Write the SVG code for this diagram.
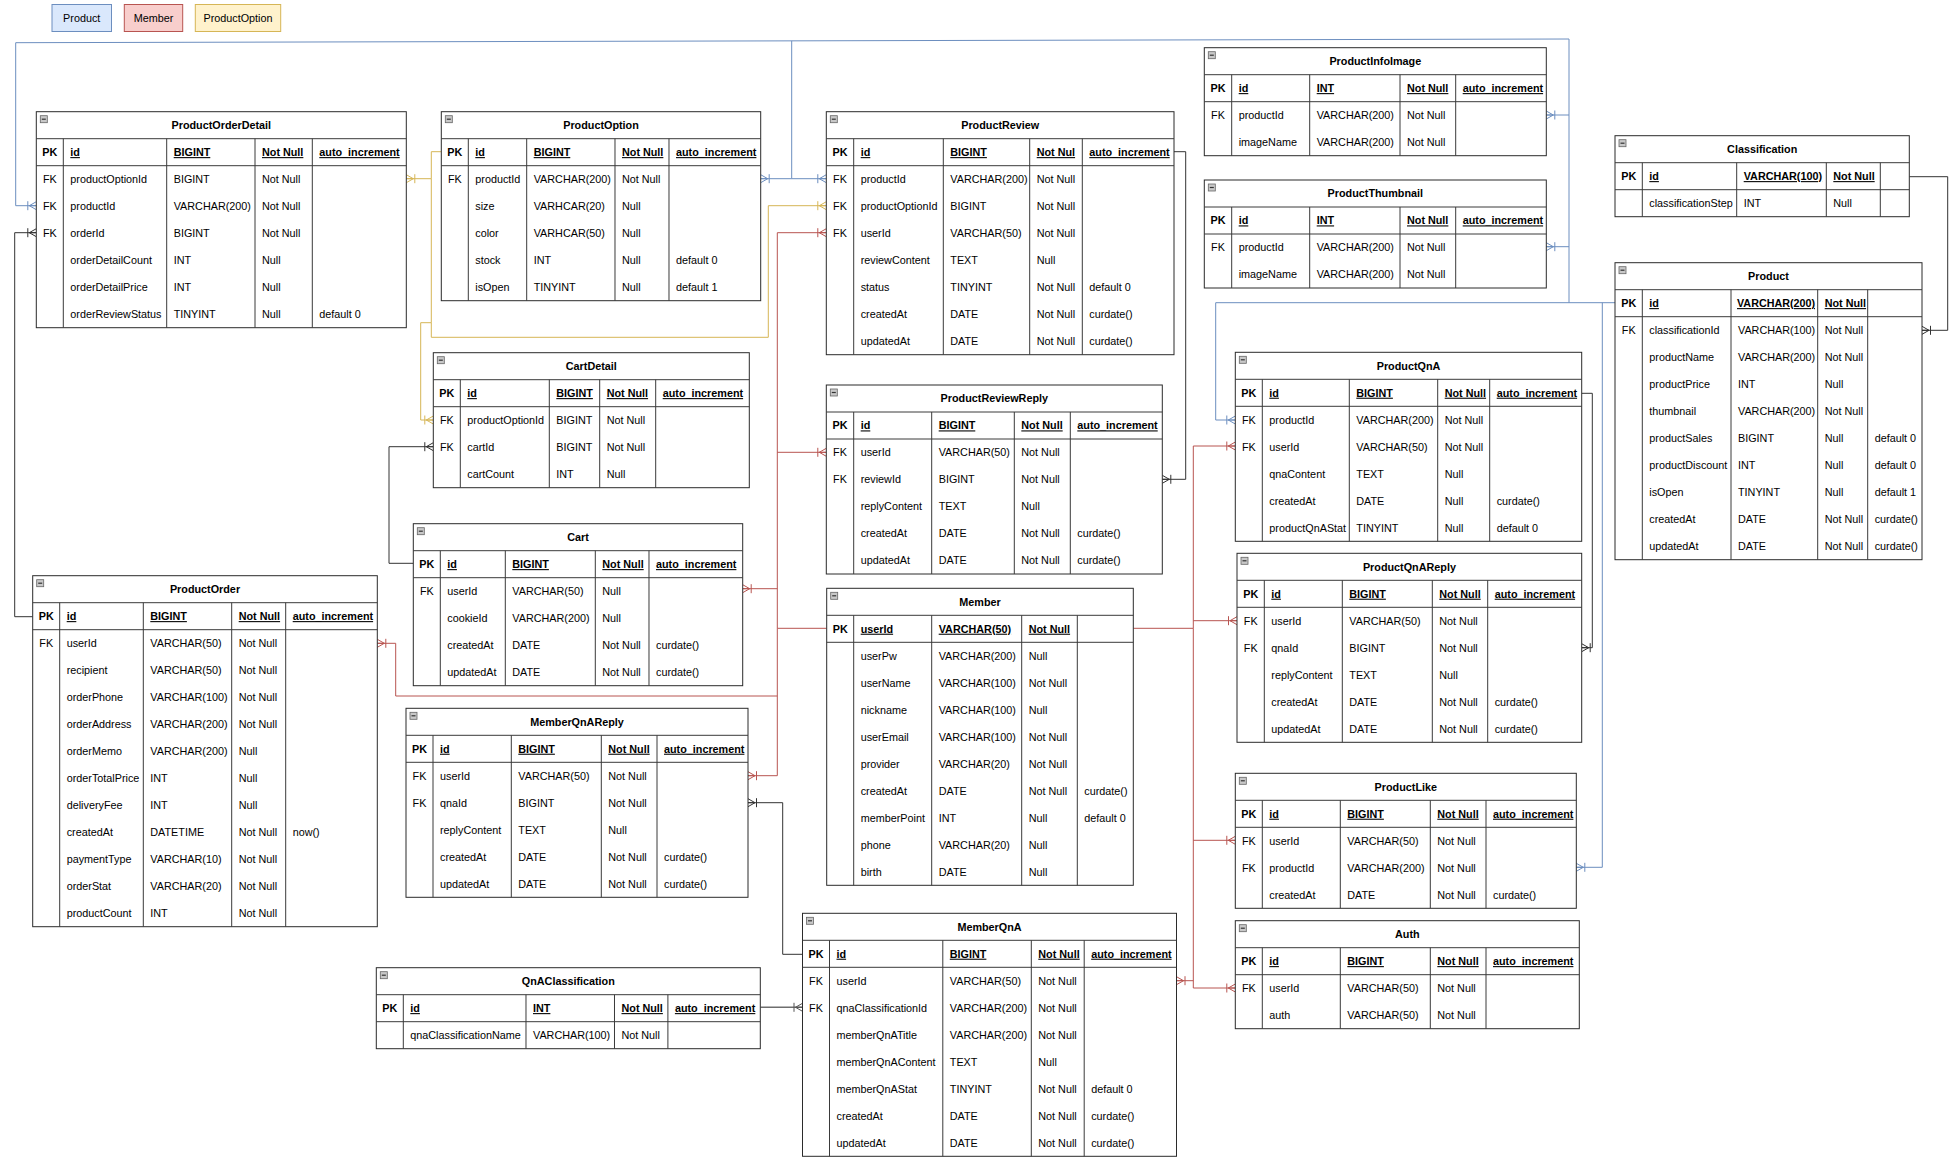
<svg xmlns="http://www.w3.org/2000/svg" xmlns:xlink="http://www.w3.org/1999/xlink" width="1957" height="1164" viewBox="0 0 1957 1164">
<style>
text{font-family:"Liberation Sans",Arial,Helvetica,sans-serif;font-size:10.8px;fill:#000}
.t{font-weight:bold;text-anchor:middle}
.h{font-weight:bold;text-decoration:underline}
.hk{font-weight:bold;text-anchor:middle}
.k{text-anchor:middle}
.tb{fill:#fff;stroke:#2b2b2b;stroke-width:1}
.ln{fill:none;stroke:#3a3a3a;stroke-width:1}
.c{fill:none;stroke-width:1}
.cb{stroke:#6c8ebf}
.cr{stroke:#b85450}
.co{stroke:#d6b656}
.ck{stroke:#333}
.cg{stroke:#6e6e6e;stroke-width:1.6}
</style>
<defs>
<g id="mi"><rect x="4" y="4" width="7" height="7" fill="#c8c8c8" stroke="#666" stroke-width="0.8"/><path d="M5.5,7.5H9.5" stroke="#333" stroke-width="1.2"/></g>
<marker id="mb" viewBox="0 0 10 12" refX="10" refY="6" markerWidth="10" markerHeight="12" markerUnits="userSpaceOnUse" orient="auto"><path d="M3,6L10,2M3,6L10,10M3,6H10M1.5,1.5V10.5" fill="none" stroke="#6c8ebf"/></marker>
<marker id="mr" viewBox="0 0 10 12" refX="10" refY="6" markerWidth="10" markerHeight="12" markerUnits="userSpaceOnUse" orient="auto"><path d="M3,6L10,2M3,6L10,10M3,6H10M1.5,1.5V10.5" fill="none" stroke="#b85450"/></marker>
<marker id="mo" viewBox="0 0 10 12" refX="10" refY="6" markerWidth="10" markerHeight="12" markerUnits="userSpaceOnUse" orient="auto"><path d="M3,6L10,2M3,6L10,10M3,6H10M1.5,1.5V10.5" fill="none" stroke="#d6b656"/></marker>
<marker id="mk" viewBox="0 0 10 12" refX="10" refY="6" markerWidth="10" markerHeight="12" markerUnits="userSpaceOnUse" orient="auto"><path d="M3,6L10,2M3,6L10,10M3,6H10M1.5,1.5V10.5" fill="none" stroke="#333"/></marker>
<marker id="mg" viewBox="0 0 10 12" refX="10" refY="6" markerWidth="10" markerHeight="12" markerUnits="userSpaceOnUse" orient="auto"><path d="M3,6L10,2M3,6L10,10M3,6H10M1.5,1.5V10.5" fill="none" stroke="#555"/></marker>
</defs>
<rect width="1957" height="1164" fill="#fff"/>

<g id="legend">
<g id="legend-product"><rect x="52" y="4.5" width="59.5" height="27" fill="#dae8fc" stroke="#6c8ebf"/><text class="k" x="81.7" y="21.7">Product</text></g>
<g id="legend-member"><rect x="124.3" y="4.5" width="58.4" height="27" fill="#f8cecc" stroke="#b85450"/><text class="k" x="153.5" y="21.7">Member</text></g>
<g id="legend-productoption"><rect x="195.3" y="4.5" width="85.4" height="27" fill="#fff2cc" stroke="#d6b656"/><text class="k" x="238" y="21.7">ProductOption</text></g>
</g>

<g id="connectors">
<path class="c cb" d="M1615,302.7H1569V39L15.7,42.7V205.7H36.3" marker-end="url(#mb)"/>
<path class="c cb" d="M791.7,40.9V178.7H760.7" marker-end="url(#mb)"/>
<path class="c cb" d="M791.7,178.7H826.3" marker-end="url(#mb)"/>
<path class="c cb" d="M1569,115H1546.3" marker-end="url(#mb)"/>
<path class="c cb" d="M1569,246.7H1546.3" marker-end="url(#mb)"/>
<path class="c cb" d="M1569,302.7H1215.7V420H1235.3" marker-end="url(#mb)"/>
<path class="c cb" d="M1602.3,302.7V867.3H1576.3" marker-end="url(#mb)"/>

<path class="c cr" d="M826.7,628.3H777.3V232.7H826.3" marker-end="url(#mr)"/>
<path class="c cr" d="M777.3,452.3H826.3" marker-end="url(#mr)"/>
<path class="c cr" d="M777.3,588.7H742.7" marker-end="url(#mr)"/>
<path class="c cr" d="M777.3,696H395.7V643.3H377.3" marker-end="url(#mr)"/>
<path class="c cr" d="M777.3,628.3V775.7H748" marker-end="url(#mr)"/>
<path class="c cr" d="M1133.3,628.3H1193.3V446H1235.3" marker-end="url(#mr)"/>
<path class="c cr" d="M1193.3,620.7H1237" marker-end="url(#mr)"/>
<path class="c cr" d="M1193.3,628.3V988H1235.3" marker-end="url(#mr)"/>
<path class="c cr" d="M1193.3,840.3H1235.3" marker-end="url(#mr)"/>
<path class="c cr" d="M1193.3,980.7H1176.5" marker-end="url(#mr)"/>

<path class="c co" d="M441.3,151.7H431.3V178.7H406.3" marker-end="url(#mo)"/>
<path class="c co" d="M431.3,178.7V322.7H420.7V420H433.3" marker-end="url(#mo)"/>
<path class="c co" d="M431.3,322.7V337.3H768.3V205.7H826.3" marker-end="url(#mo)"/>

<path class="c ck" d="M32.7,616.7H14.7V232.7H36.3" marker-end="url(#mk)"/>
<path class="c ck" d="M413.3,563.3H389V446.7H433.3" marker-end="url(#mk)"/>
<path class="c ck" d="M1174,151.7H1185.7V479.3H1162.3" marker-end="url(#mk)"/>
<path class="c ck" d="M1581.7,393.3H1592.3V647.7H1581.7" marker-end="url(#mk)"/>
<path class="c ck" d="M1909.3,176.7H1947.7V330.3H1922" marker-end="url(#mk)"/>
<path class="c ck" d="M802.5,954.3H782.7V802.7H748" marker-end="url(#mk)"/>
<path class="c cg" d="M760.3,1007.3H802.5" marker-end="url(#mg)"/>
</g>

<g id="ProductOrderDetail" transform="translate(36.3,111.7)">
<rect class="tb" width="370" height="216"/>
<path class="ln" d="M0,27H370M0,54H370M27,27V216M130.4,27V216M218.7,27V216M276,27V216"/>
<use href="#mi"/>
<text class="t" x="185" y="17.4">ProductOrderDetail</text>
<text class="hk" x="13.5" y="44.4">PK</text><text class="h" x="34" y="44.4">id</text><text class="h" x="137.4" y="44.4">BIGINT</text><text class="h" x="225.7" y="44.4">Not Null</text><text class="h" x="283" y="44.4">auto_increment</text>
<text class="k"><tspan x="13.5" y="71.4">FK</tspan><tspan x="13.5" y="98.4">FK</tspan><tspan x="13.5" y="125.4">FK</tspan></text>
<text><tspan x="34" y="71.4">productOptionId</tspan><tspan x="34" y="98.4">productId</tspan><tspan x="34" y="125.4">orderId</tspan><tspan x="34" y="152.4">orderDetailCount</tspan><tspan x="34" y="179.4">orderDetailPrice</tspan><tspan x="34" y="206.4">orderReviewStatus</tspan></text>
<text><tspan x="137.4" y="71.4">BIGINT</tspan><tspan x="137.4" y="98.4">VARCHAR(200)</tspan><tspan x="137.4" y="125.4">BIGINT</tspan><tspan x="137.4" y="152.4">INT</tspan><tspan x="137.4" y="179.4">INT</tspan><tspan x="137.4" y="206.4">TINYINT</tspan></text>
<text><tspan x="225.7" y="71.4">Not Null</tspan><tspan x="225.7" y="98.4">Not Null</tspan><tspan x="225.7" y="125.4">Not Null</tspan><tspan x="225.7" y="152.4">Null</tspan><tspan x="225.7" y="179.4">Null</tspan><tspan x="225.7" y="206.4">Null</tspan></text>
<text x="283" y="206.4">default 0</text>
</g>

<g id="ProductOption" transform="translate(441.3,111.7)">
<rect class="tb" width="319.4" height="189"/>
<path class="ln" d="M0,27H319.4M0,54H319.4M27,27V189M85.4,27V189M173.7,27V189M227.7,27V189"/>
<use href="#mi"/>
<text class="t" x="159.7" y="17.4">ProductOption</text>
<text class="hk" x="13.5" y="44.4">PK</text><text class="h" x="34" y="44.4">id</text><text class="h" x="92.4" y="44.4">BIGINT</text><text class="h" x="180.7" y="44.4">Not Null</text><text class="h" x="234.7" y="44.4">auto_increment</text>
<text class="k" x="13.5" y="71.4">FK</text>
<text><tspan x="34" y="71.4">productId</tspan><tspan x="34" y="98.4">size</tspan><tspan x="34" y="125.4">color</tspan><tspan x="34" y="152.4">stock</tspan><tspan x="34" y="179.4">isOpen</tspan></text>
<text><tspan x="92.4" y="71.4">VARCHAR(200)</tspan><tspan x="92.4" y="98.4">VARHCAR(20)</tspan><tspan x="92.4" y="125.4">VARHCAR(50)</tspan><tspan x="92.4" y="152.4">INT</tspan><tspan x="92.4" y="179.4">TINYINT</tspan></text>
<text><tspan x="180.7" y="71.4">Not Null</tspan><tspan x="180.7" y="98.4">Null</tspan><tspan x="180.7" y="125.4">Null</tspan><tspan x="180.7" y="152.4">Null</tspan><tspan x="180.7" y="179.4">Null</tspan></text>
<text><tspan x="234.7" y="152.4">default 0</tspan><tspan x="234.7" y="179.4">default 1</tspan></text>
</g>

<g id="CartDetail" transform="translate(433.3,352.7)">
<rect class="tb" width="316" height="135"/>
<path class="ln" d="M0,27H316M0,54H316M27,27V135M116,27V135M166.4,27V135M222.4,27V135"/>
<use href="#mi"/>
<text class="t" x="158" y="17.4">CartDetail</text>
<text class="hk" x="13.5" y="44.4">PK</text><text class="h" x="34" y="44.4">id</text><text class="h" x="123" y="44.4">BIGINT</text><text class="h" x="173.4" y="44.4">Not Null</text><text class="h" x="229.4" y="44.4">auto_increment</text>
<text class="k"><tspan x="13.5" y="71.4">FK</tspan><tspan x="13.5" y="98.4">FK</tspan></text>
<text><tspan x="34" y="71.4">productOptionId</tspan><tspan x="34" y="98.4">cartId</tspan><tspan x="34" y="125.4">cartCount</tspan></text>
<text><tspan x="123" y="71.4">BIGINT</tspan><tspan x="123" y="98.4">BIGINT</tspan><tspan x="123" y="125.4">INT</tspan></text>
<text><tspan x="173.4" y="71.4">Not Null</tspan><tspan x="173.4" y="98.4">Not Null</tspan><tspan x="173.4" y="125.4">Null</tspan></text>
</g>

<g id="Cart" transform="translate(413.3,523.7)">
<rect class="tb" width="329.4" height="162"/>
<path class="ln" d="M0,27H329.4M0,54H329.4M27,27V162M92,27V162M182,27V162M235.7,27V162"/>
<use href="#mi"/>
<text class="t" x="164.7" y="17.4">Cart</text>
<text class="hk" x="13.5" y="44.4">PK</text><text class="h" x="34" y="44.4">id</text><text class="h" x="99" y="44.4">BIGINT</text><text class="h" x="189" y="44.4">Not Null</text><text class="h" x="242.7" y="44.4">auto_increment</text>
<text class="k" x="13.5" y="71.4">FK</text>
<text><tspan x="34" y="71.4">userId</tspan><tspan x="34" y="98.4">cookieId</tspan><tspan x="34" y="125.4">createdAt</tspan><tspan x="34" y="152.4">updatedAt</tspan></text>
<text><tspan x="99" y="71.4">VARCHAR(50)</tspan><tspan x="99" y="98.4">VARCHAR(200)</tspan><tspan x="99" y="125.4">DATE</tspan><tspan x="99" y="152.4">DATE</tspan></text>
<text><tspan x="189" y="71.4">Null</tspan><tspan x="189" y="98.4">Null</tspan><tspan x="189" y="125.4">Not Null</tspan><tspan x="189" y="152.4">Not Null</tspan></text>
<text><tspan x="242.7" y="125.4">curdate()</tspan><tspan x="242.7" y="152.4">curdate()</tspan></text>
</g>

<g id="MemberQnAReply" transform="translate(406,708.3)">
<rect class="tb" width="342" height="189"/>
<path class="ln" d="M0,27H342M0,54H342M27,27V189M105.3,27V189M195.3,27V189M251,27V189"/>
<use href="#mi"/>
<text class="t" x="171" y="17.4">MemberQnAReply</text>
<text class="hk" x="13.5" y="44.4">PK</text><text class="h" x="34" y="44.4">id</text><text class="h" x="112.3" y="44.4">BIGINT</text><text class="h" x="202.3" y="44.4">Not Null</text><text class="h" x="258" y="44.4">auto_increment</text>
<text class="k"><tspan x="13.5" y="71.4">FK</tspan><tspan x="13.5" y="98.4">FK</tspan></text>
<text><tspan x="34" y="71.4">userId</tspan><tspan x="34" y="98.4">qnaId</tspan><tspan x="34" y="125.4">replyContent</tspan><tspan x="34" y="152.4">createdAt</tspan><tspan x="34" y="179.4">updatedAt</tspan></text>
<text><tspan x="112.3" y="71.4">VARCHAR(50)</tspan><tspan x="112.3" y="98.4">BIGINT</tspan><tspan x="112.3" y="125.4">TEXT</tspan><tspan x="112.3" y="152.4">DATE</tspan><tspan x="112.3" y="179.4">DATE</tspan></text>
<text><tspan x="202.3" y="71.4">Not Null</tspan><tspan x="202.3" y="98.4">Not Null</tspan><tspan x="202.3" y="125.4">Null</tspan><tspan x="202.3" y="152.4">Not Null</tspan><tspan x="202.3" y="179.4">Not Null</tspan></text>
<text><tspan x="258" y="152.4">curdate()</tspan><tspan x="258" y="179.4">curdate()</tspan></text>
</g>

<g id="ProductOrder" transform="translate(32.7,575.7)">
<rect class="tb" width="344.6" height="351"/>
<path class="ln" d="M0,27H344.6M0,54H344.6M27,27V351M110.6,27V351M199,27V351M253,27V351"/>
<use href="#mi"/>
<text class="t" x="172.3" y="17.4">ProductOrder</text>
<text class="hk" x="13.5" y="44.4">PK</text><text class="h" x="34" y="44.4">id</text><text class="h" x="117.6" y="44.4">BIGINT</text><text class="h" x="206" y="44.4">Not Null</text><text class="h" x="260" y="44.4">auto_increment</text>
<text class="k" x="13.5" y="71.4">FK</text>
<text><tspan x="34" y="71.4">userId</tspan><tspan x="34" y="98.4">recipient</tspan><tspan x="34" y="125.4">orderPhone</tspan><tspan x="34" y="152.4">orderAddress</tspan><tspan x="34" y="179.4">orderMemo</tspan><tspan x="34" y="206.4">orderTotalPrice</tspan><tspan x="34" y="233.4">deliveryFee</tspan><tspan x="34" y="260.4">createdAt</tspan><tspan x="34" y="287.4">paymentType</tspan><tspan x="34" y="314.4">orderStat</tspan><tspan x="34" y="341.4">productCount</tspan></text>
<text><tspan x="117.6" y="71.4">VARCHAR(50)</tspan><tspan x="117.6" y="98.4">VARCHAR(50)</tspan><tspan x="117.6" y="125.4">VARCHAR(100)</tspan><tspan x="117.6" y="152.4">VARCHAR(200)</tspan><tspan x="117.6" y="179.4">VARCHAR(200)</tspan><tspan x="117.6" y="206.4">INT</tspan><tspan x="117.6" y="233.4">INT</tspan><tspan x="117.6" y="260.4">DATETIME</tspan><tspan x="117.6" y="287.4">VARCHAR(10)</tspan><tspan x="117.6" y="314.4">VARCHAR(20)</tspan><tspan x="117.6" y="341.4">INT</tspan></text>
<text><tspan x="206" y="71.4">Not Null</tspan><tspan x="206" y="98.4">Not Null</tspan><tspan x="206" y="125.4">Not Null</tspan><tspan x="206" y="152.4">Not Null</tspan><tspan x="206" y="179.4">Null</tspan><tspan x="206" y="206.4">Null</tspan><tspan x="206" y="233.4">Null</tspan><tspan x="206" y="260.4">Not Null</tspan><tspan x="206" y="287.4">Not Null</tspan><tspan x="206" y="314.4">Not Null</tspan><tspan x="206" y="341.4">Not Null</tspan></text>
<text x="260" y="260.4">now()</text>
</g>

<g id="QnAClassification" transform="translate(376.3,967.7)">
<rect class="tb" width="384" height="81"/>
<path class="ln" d="M0,27H384M0,54H384M27,27V81M149.7,27V81M238.2,27V81M291.6,27V81"/>
<use href="#mi"/>
<text class="t" x="192" y="17.4">QnAClassification</text>
<text class="hk" x="13.5" y="44.4">PK</text><text class="h" x="34" y="44.4">id</text><text class="h" x="156.7" y="44.4">INT</text><text class="h" x="245.2" y="44.4">Not Null</text><text class="h" x="298.6" y="44.4">auto_increment</text>
<text x="34" y="71.4">qnaClassificationName</text>
<text x="156.7" y="71.4">VARCHAR(100)</text>
<text x="245.2" y="71.4">Not Null</text>
</g>

<g id="MemberQnA" transform="translate(802.5,913.3)">
<rect class="tb" width="374" height="243"/>
<path class="ln" d="M0,27H374M0,54H374M27,27V243M140.3,27V243M228.8,27V243M281.7,27V243"/>
<use href="#mi"/>
<text class="t" x="187" y="17.4">MemberQnA</text>
<text class="hk" x="13.5" y="44.4">PK</text><text class="h" x="34" y="44.4">id</text><text class="h" x="147.3" y="44.4">BIGINT</text><text class="h" x="235.8" y="44.4">Not Null</text><text class="h" x="288.7" y="44.4">auto_increment</text>
<text class="k"><tspan x="13.5" y="71.4">FK</tspan><tspan x="13.5" y="98.4">FK</tspan></text>
<text><tspan x="34" y="71.4">userId</tspan><tspan x="34" y="98.4">qnaClassificationId</tspan><tspan x="34" y="125.4">memberQnATitle</tspan><tspan x="34" y="152.4">memberQnAContent</tspan><tspan x="34" y="179.4">memberQnAStat</tspan><tspan x="34" y="206.4">createdAt</tspan><tspan x="34" y="233.4">updatedAt</tspan></text>
<text><tspan x="147.3" y="71.4">VARCHAR(50)</tspan><tspan x="147.3" y="98.4">VARCHAR(200)</tspan><tspan x="147.3" y="125.4">VARCHAR(200)</tspan><tspan x="147.3" y="152.4">TEXT</tspan><tspan x="147.3" y="179.4">TINYINT</tspan><tspan x="147.3" y="206.4">DATE</tspan><tspan x="147.3" y="233.4">DATE</tspan></text>
<text><tspan x="235.8" y="71.4">Not Null</tspan><tspan x="235.8" y="98.4">Not Null</tspan><tspan x="235.8" y="125.4">Not Null</tspan><tspan x="235.8" y="152.4">Null</tspan><tspan x="235.8" y="179.4">Not Null</tspan><tspan x="235.8" y="206.4">Not Null</tspan><tspan x="235.8" y="233.4">Not Null</tspan></text>
<text><tspan x="288.7" y="179.4">default 0</tspan><tspan x="288.7" y="206.4">curdate()</tspan><tspan x="288.7" y="233.4">curdate()</tspan></text>
</g>

<g id="ProductReview" transform="translate(826.3,111.7)">
<rect class="tb" width="347.7" height="243"/>
<path class="ln" d="M0,27H347.7M0,54H347.7M27.4,27V243M117,27V243M203.4,27V243M256,27V243"/>
<use href="#mi"/>
<text class="t" x="173.9" y="17.4">ProductReview</text>
<text class="hk" x="13.7" y="44.4">PK</text><text class="h" x="34.4" y="44.4">id</text><text class="h" x="124" y="44.4">BIGINT</text><text class="h" x="210.4" y="44.4">Not Nul</text><text class="h" x="263" y="44.4">auto_increment</text>
<text class="k"><tspan x="13.7" y="71.4">FK</tspan><tspan x="13.7" y="98.4">FK</tspan><tspan x="13.7" y="125.4">FK</tspan></text>
<text><tspan x="34.4" y="71.4">productId</tspan><tspan x="34.4" y="98.4">productOptionId</tspan><tspan x="34.4" y="125.4">userId</tspan><tspan x="34.4" y="152.4">reviewContent</tspan><tspan x="34.4" y="179.4">status</tspan><tspan x="34.4" y="206.4">createdAt</tspan><tspan x="34.4" y="233.4">updatedAt</tspan></text>
<text><tspan x="124" y="71.4">VARCHAR(200)</tspan><tspan x="124" y="98.4">BIGINT</tspan><tspan x="124" y="125.4">VARCHAR(50)</tspan><tspan x="124" y="152.4">TEXT</tspan><tspan x="124" y="179.4">TINYINT</tspan><tspan x="124" y="206.4">DATE</tspan><tspan x="124" y="233.4">DATE</tspan></text>
<text><tspan x="210.4" y="71.4">Not Null</tspan><tspan x="210.4" y="98.4">Not Null</tspan><tspan x="210.4" y="125.4">Not Null</tspan><tspan x="210.4" y="152.4">Null</tspan><tspan x="210.4" y="179.4">Not Null</tspan><tspan x="210.4" y="206.4">Not Null</tspan><tspan x="210.4" y="233.4">Not Null</tspan></text>
<text><tspan x="263" y="179.4">default 0</tspan><tspan x="263" y="206.4">curdate()</tspan><tspan x="263" y="233.4">curdate()</tspan></text>
</g>

<g id="ProductReviewReply" transform="translate(826.3,385)">
<rect class="tb" width="336" height="189"/>
<path class="ln" d="M0,27H336M0,54H336M27.4,27V189M105.4,27V189M188,27V189M244,27V189"/>
<use href="#mi"/>
<text class="t" x="168" y="17.4">ProductReviewReply</text>
<text class="hk" x="13.7" y="44.4">PK</text><text class="h" x="34.4" y="44.4">id</text><text class="h" x="112.4" y="44.4">BIGINT</text><text class="h" x="195" y="44.4">Not Null</text><text class="h" x="251" y="44.4">auto_increment</text>
<text class="k"><tspan x="13.7" y="71.4">FK</tspan><tspan x="13.7" y="98.4">FK</tspan></text>
<text><tspan x="34.4" y="71.4">userId</tspan><tspan x="34.4" y="98.4">reviewId</tspan><tspan x="34.4" y="125.4">replyContent</tspan><tspan x="34.4" y="152.4">createdAt</tspan><tspan x="34.4" y="179.4">updatedAt</tspan></text>
<text><tspan x="112.4" y="71.4">VARCHAR(50)</tspan><tspan x="112.4" y="98.4">BIGINT</tspan><tspan x="112.4" y="125.4">TEXT</tspan><tspan x="112.4" y="152.4">DATE</tspan><tspan x="112.4" y="179.4">DATE</tspan></text>
<text><tspan x="195" y="71.4">Not Null</tspan><tspan x="195" y="98.4">Not Null</tspan><tspan x="195" y="125.4">Null</tspan><tspan x="195" y="152.4">Not Null</tspan><tspan x="195" y="179.4">Not Null</tspan></text>
<text><tspan x="251" y="152.4">curdate()</tspan><tspan x="251" y="179.4">curdate()</tspan></text>
</g>

<g id="Member" transform="translate(826.7,588.3)">
<rect class="tb" width="306.6" height="297"/>
<path class="ln" d="M0,27H306.6M0,54H306.6M27,27V297M105,27V297M195,27V297M250.6,27V297"/>
<use href="#mi"/>
<text class="t" x="153.3" y="17.4">Member</text>
<text class="hk" x="13.5" y="44.4">PK</text><text class="h" x="34" y="44.4">userId</text><text class="h" x="112" y="44.4">VARCHAR(50)</text><text class="h" x="202" y="44.4">Not Null</text>
<text><tspan x="34" y="71.4">userPw</tspan><tspan x="34" y="98.4">userName</tspan><tspan x="34" y="125.4">nickname</tspan><tspan x="34" y="152.4">userEmail</tspan><tspan x="34" y="179.4">provider</tspan><tspan x="34" y="206.4">createdAt</tspan><tspan x="34" y="233.4">memberPoint</tspan><tspan x="34" y="260.4">phone</tspan><tspan x="34" y="287.4">birth</tspan></text>
<text><tspan x="112" y="71.4">VARCHAR(200)</tspan><tspan x="112" y="98.4">VARCHAR(100)</tspan><tspan x="112" y="125.4">VARCHAR(100)</tspan><tspan x="112" y="152.4">VARCHAR(100)</tspan><tspan x="112" y="179.4">VARCHAR(20)</tspan><tspan x="112" y="206.4">DATE</tspan><tspan x="112" y="233.4">INT</tspan><tspan x="112" y="260.4">VARCHAR(20)</tspan><tspan x="112" y="287.4">DATE</tspan></text>
<text><tspan x="202" y="71.4">Null</tspan><tspan x="202" y="98.4">Not Null</tspan><tspan x="202" y="125.4">Null</tspan><tspan x="202" y="152.4">Not Null</tspan><tspan x="202" y="179.4">Not Null</tspan><tspan x="202" y="206.4">Not Null</tspan><tspan x="202" y="233.4">Null</tspan><tspan x="202" y="260.4">Null</tspan><tspan x="202" y="287.4">Null</tspan></text>
<text><tspan x="257.6" y="206.4">curdate()</tspan><tspan x="257.6" y="233.4">default 0</tspan></text>
</g>

<g id="ProductInfoImage" transform="translate(1204.3,47.7)">
<rect class="tb" width="342" height="108"/>
<path class="ln" d="M0,27H342M0,54H342M27.4,27V108M105.4,27V108M195.7,27V108M251.4,27V108"/>
<use href="#mi"/>
<text class="t" x="171" y="17.4">ProductInfoImage</text>
<text class="hk" x="13.7" y="44.4">PK</text><text class="h" x="34.4" y="44.4">id</text><text class="h" x="112.4" y="44.4">INT</text><text class="h" x="202.7" y="44.4">Not Null</text><text class="h" x="258.4" y="44.4">auto_increment</text>
<text class="k" x="13.7" y="71.4">FK</text>
<text><tspan x="34.4" y="71.4">productId</tspan><tspan x="34.4" y="98.4">imageName</tspan></text>
<text><tspan x="112.4" y="71.4">VARCHAR(200)</tspan><tspan x="112.4" y="98.4">VARCHAR(200)</tspan></text>
<text><tspan x="202.7" y="71.4">Not Null</tspan><tspan x="202.7" y="98.4">Not Null</tspan></text>
</g>

<g id="ProductThumbnail" transform="translate(1204.3,180)">
<rect class="tb" width="342" height="108"/>
<path class="ln" d="M0,27H342M0,54H342M27.4,27V108M105.4,27V108M195.7,27V108M251.4,27V108"/>
<use href="#mi"/>
<text class="t" x="171" y="17.4">ProductThumbnail</text>
<text class="hk" x="13.7" y="44.4">PK</text><text class="h" x="34.4" y="44.4">id</text><text class="h" x="112.4" y="44.4">INT</text><text class="h" x="202.7" y="44.4">Not Null</text><text class="h" x="258.4" y="44.4">auto_increment</text>
<text class="k" x="13.7" y="71.4">FK</text>
<text><tspan x="34.4" y="71.4">productId</tspan><tspan x="34.4" y="98.4">imageName</tspan></text>
<text><tspan x="112.4" y="71.4">VARCHAR(200)</tspan><tspan x="112.4" y="98.4">VARCHAR(200)</tspan></text>
<text><tspan x="202.7" y="71.4">Not Null</tspan><tspan x="202.7" y="98.4">Not Null</tspan></text>
</g>

<g id="Classification" transform="translate(1615,135.7)">
<rect class="tb" width="294.3" height="81"/>
<path class="ln" d="M0,27H294.3M0,54H294.3M27.3,27V81M121.7,27V81M211.3,27V81M265.3,27V81"/>
<use href="#mi"/>
<text class="t" x="147.2" y="17.4">Classification</text>
<text class="hk" x="13.7" y="44.4">PK</text><text class="h" x="34.3" y="44.4">id</text><text class="h" x="128.7" y="44.4">VARCHAR(100)</text><text class="h" x="218.3" y="44.4">Not Null</text>
<text x="34.3" y="71.4">classificationStep</text>
<text x="128.7" y="71.4">INT</text>
<text x="218.3" y="71.4">Null</text>
</g>

<g id="Product" transform="translate(1615,262.7)">
<rect class="tb" width="307" height="297"/>
<path class="ln" d="M0,27H307M0,54H307M27.3,27V297M116,27V297M202.7,27V297M252.7,27V297"/>
<use href="#mi"/>
<text class="t" x="153.5" y="17.4">Product</text>
<text class="hk" x="13.7" y="44.4">PK</text><text class="h" x="34.3" y="44.4">id</text><text class="h" x="122" y="44.4" textLength="78" lengthAdjust="spacingAndGlyphs">VARCHAR(200)</text><text class="h" x="209.7" y="44.4">Not Null</text>
<text class="k" x="13.7" y="71.4">FK</text>
<text><tspan x="34.3" y="71.4">classificationId</tspan><tspan x="34.3" y="98.4">productName</tspan><tspan x="34.3" y="125.4">productPrice</tspan><tspan x="34.3" y="152.4">thumbnail</tspan><tspan x="34.3" y="179.4">productSales</tspan><tspan x="34.3" y="206.4">productDiscount</tspan><tspan x="34.3" y="233.4">isOpen</tspan><tspan x="34.3" y="260.4">createdAt</tspan><tspan x="34.3" y="287.4">updatedAt</tspan></text>
<text><tspan x="123" y="71.4">VARCHAR(100)</tspan><tspan x="123" y="98.4">VARCHAR(200)</tspan><tspan x="123" y="125.4">INT</tspan><tspan x="123" y="152.4">VARCHAR(200)</tspan><tspan x="123" y="179.4">BIGINT</tspan><tspan x="123" y="206.4">INT</tspan><tspan x="123" y="233.4">TINYINT</tspan><tspan x="123" y="260.4">DATE</tspan><tspan x="123" y="287.4">DATE</tspan></text>
<text><tspan x="209.7" y="71.4">Not Null</tspan><tspan x="209.7" y="98.4">Not Null</tspan><tspan x="209.7" y="125.4">Null</tspan><tspan x="209.7" y="152.4">Not Null</tspan><tspan x="209.7" y="179.4">Null</tspan><tspan x="209.7" y="206.4">Null</tspan><tspan x="209.7" y="233.4">Null</tspan><tspan x="209.7" y="260.4">Not Null</tspan><tspan x="209.7" y="287.4">Not Null</tspan></text>
<text><tspan x="259.7" y="179.4">default 0</tspan><tspan x="259.7" y="206.4">default 0</tspan><tspan x="259.7" y="233.4">default 1</tspan><tspan x="259.7" y="260.4">curdate()</tspan><tspan x="259.7" y="287.4">curdate()</tspan></text>
</g>

<g id="ProductQnA" transform="translate(1235.3,352.3)">
<rect class="tb" width="346.4" height="189"/>
<path class="ln" d="M0,27H346.4M0,54H346.4M27,27V189M114,27V189M202.4,27V189M254.4,27V189"/>
<use href="#mi"/>
<text class="t" x="173.2" y="17.4">ProductQnA</text>
<text class="hk" x="13.5" y="44.4">PK</text><text class="h" x="34" y="44.4">id</text><text class="h" x="121" y="44.4">BIGINT</text><text class="h" x="209.4" y="44.4">Not Null</text><text class="h" x="261.4" y="44.4">auto_increment</text>
<text class="k"><tspan x="13.5" y="71.4">FK</tspan><tspan x="13.5" y="98.4">FK</tspan></text>
<text><tspan x="34" y="71.4">productId</tspan><tspan x="34" y="98.4">userId</tspan><tspan x="34" y="125.4">qnaContent</tspan><tspan x="34" y="152.4">createdAt</tspan><tspan x="34" y="179.4">productQnAStat</tspan></text>
<text><tspan x="121" y="71.4">VARCHAR(200)</tspan><tspan x="121" y="98.4">VARCHAR(50)</tspan><tspan x="121" y="125.4">TEXT</tspan><tspan x="121" y="152.4">DATE</tspan><tspan x="121" y="179.4">TINYINT</tspan></text>
<text><tspan x="209.4" y="71.4">Not Null</tspan><tspan x="209.4" y="98.4">Not Null</tspan><tspan x="209.4" y="125.4">Null</tspan><tspan x="209.4" y="152.4">Null</tspan><tspan x="209.4" y="179.4">Null</tspan></text>
<text><tspan x="261.4" y="152.4">curdate()</tspan><tspan x="261.4" y="179.4">default 0</tspan></text>
</g>

<g id="ProductQnAReply" transform="translate(1237,553.3)">
<rect class="tb" width="344.7" height="189"/>
<path class="ln" d="M0,27H344.7M0,54H344.7M27.3,27V189M105.3,27V189M195.3,27V189M250.7,27V189"/>
<use href="#mi"/>
<text class="t" x="172.4" y="17.4">ProductQnAReply</text>
<text class="hk" x="13.7" y="44.4">PK</text><text class="h" x="34.3" y="44.4">id</text><text class="h" x="112.3" y="44.4">BIGINT</text><text class="h" x="202.3" y="44.4">Not Null</text><text class="h" x="257.7" y="44.4">auto_increment</text>
<text class="k"><tspan x="13.7" y="71.4">FK</tspan><tspan x="13.7" y="98.4">FK</tspan></text>
<text><tspan x="34.3" y="71.4">userId</tspan><tspan x="34.3" y="98.4">qnaId</tspan><tspan x="34.3" y="125.4">replyContent</tspan><tspan x="34.3" y="152.4">createdAt</tspan><tspan x="34.3" y="179.4">updatedAt</tspan></text>
<text><tspan x="112.3" y="71.4">VARCHAR(50)</tspan><tspan x="112.3" y="98.4">BIGINT</tspan><tspan x="112.3" y="125.4">TEXT</tspan><tspan x="112.3" y="152.4">DATE</tspan><tspan x="112.3" y="179.4">DATE</tspan></text>
<text><tspan x="202.3" y="71.4">Not Null</tspan><tspan x="202.3" y="98.4">Not Null</tspan><tspan x="202.3" y="125.4">Null</tspan><tspan x="202.3" y="152.4">Not Null</tspan><tspan x="202.3" y="179.4">Not Null</tspan></text>
<text><tspan x="257.7" y="152.4">curdate()</tspan><tspan x="257.7" y="179.4">curdate()</tspan></text>
</g>

<g id="ProductLike" transform="translate(1235.3,773.3)">
<rect class="tb" width="341" height="135"/>
<path class="ln" d="M0,27H341M0,54H341M27,27V135M105,27V135M195,27V135M250.7,27V135"/>
<use href="#mi"/>
<text class="t" x="170.5" y="17.4">ProductLike</text>
<text class="hk" x="13.5" y="44.4">PK</text><text class="h" x="34" y="44.4">id</text><text class="h" x="112" y="44.4">BIGINT</text><text class="h" x="202" y="44.4">Not Null</text><text class="h" x="257.7" y="44.4">auto_increment</text>
<text class="k"><tspan x="13.5" y="71.4">FK</tspan><tspan x="13.5" y="98.4">FK</tspan></text>
<text><tspan x="34" y="71.4">userId</tspan><tspan x="34" y="98.4">productId</tspan><tspan x="34" y="125.4">createdAt</tspan></text>
<text><tspan x="112" y="71.4">VARCHAR(50)</tspan><tspan x="112" y="98.4">VARCHAR(200)</tspan><tspan x="112" y="125.4">DATE</tspan></text>
<text><tspan x="202" y="71.4">Not Null</tspan><tspan x="202" y="98.4">Not Null</tspan><tspan x="202" y="125.4">Not Null</tspan></text>
<text x="257.7" y="125.4">curdate()</text>
</g>

<g id="Auth" transform="translate(1235.3,920.7)">
<rect class="tb" width="344" height="108"/>
<path class="ln" d="M0,27H344M0,54H344M27,27V108M105,27V108M195,27V108M250.7,27V108"/>
<use href="#mi"/>
<text class="t" x="172" y="17.4">Auth</text>
<text class="hk" x="13.5" y="44.4">PK</text><text class="h" x="34" y="44.4">id</text><text class="h" x="112" y="44.4">BIGINT</text><text class="h" x="202" y="44.4">Not Null</text><text class="h" x="257.7" y="44.4">auto_increment</text>
<text class="k" x="13.5" y="71.4">FK</text>
<text><tspan x="34" y="71.4">userId</tspan><tspan x="34" y="98.4">auth</tspan></text>
<text><tspan x="112" y="71.4">VARCHAR(50)</tspan><tspan x="112" y="98.4">VARCHAR(50)</tspan></text>
<text><tspan x="202" y="71.4">Not Null</tspan><tspan x="202" y="98.4">Not Null</tspan></text>
</g>
</svg>
